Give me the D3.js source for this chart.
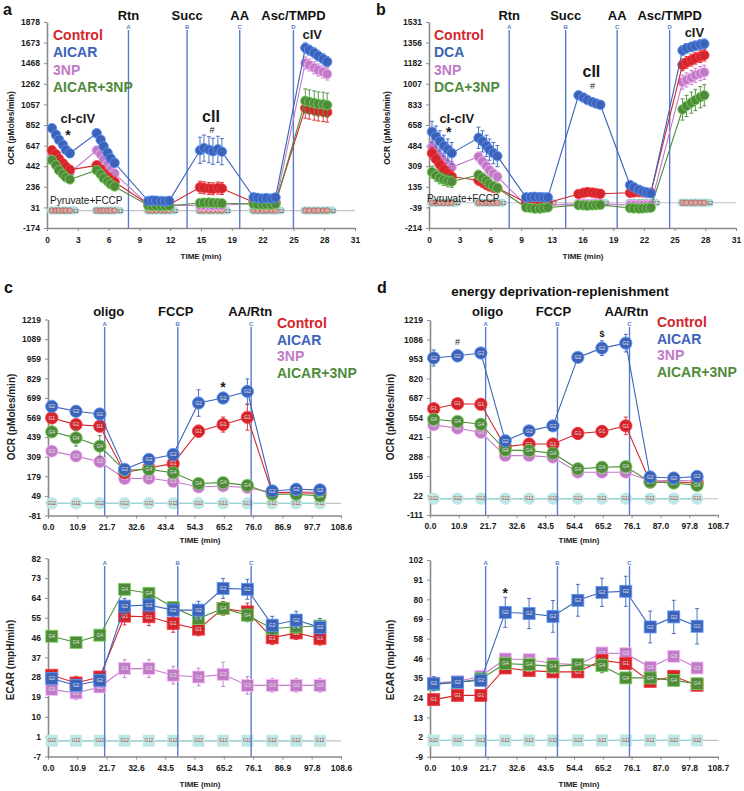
<!DOCTYPE html>
<html>
<head>
<meta charset="utf-8">
<script src="https://cdn.jsdelivr.net/npm/d3@7/dist/d3.min.js"></script>
<style>
  html,body{margin:0;padding:0;background:#fff;}
  svg{display:block;}
  text{font-family:"Liberation Sans", Arial, Helvetica, sans-serif;}
</style>
</head>
<body>
<svg id="fig" width="744" height="791"></svg>
<script>
// ================= DATA =================
const namesAICAR = ["Control","AICAR","3NP","AICAR+3NP"];
const namesDCA   = ["Control","DCA","3NP","DCA+3NP"];
const seriesColors = ["#d3262c","#3c63b8","#c07bc6","#4f8b3b"];
const groupTags = ["G1","G2","G3","G4"];

// ---- Panel a (OCR, Pyruvate+FCCP) ----
const aTimes = [0.5,0.9,1.2,1.6,1.9,2.3, 5.0,5.4,5.7,6.1,6.4,6.8, 10.2,10.6,11.0,11.5,11.9,12.3,
                15.4,15.8,16.3,16.7,17.2,17.6, 20.8,21.2,21.7,22.1,22.6,23.0, 26.0,26.4,26.9,27.3,27.8,28.2];
const aXTicks = ["0","3","6","9","12","15","19","22","25","28","31"];
const aYTicks = ["-174","31","236","442","647","852","1057","1262","1468","1673","1878"];
const aInjTimes = [8.2, 14.1, 19.4, 24.8];
const aInjNames = ["Rtn","Succ","AA","Asc/TMPD"];
const aControl  = [600,560,515,470,435,405, 450,410,370,335,305,285, 62,60,58,56,55,57, 232,226,220,216,224,220, 82,78,76,80,77,80, 1020,1010,1000,992,986,980];
const aAICAR    = [820,755,705,655,605,570, 770,705,640,575,520,475, 95,100,98,95,92,96, 600,622,606,590,610,586, 132,126,120,124,120,130, 1620,1598,1570,1540,1510,1482];
const a3NP      = [560,520,482,440,402,376, 600,560,510,460,410,370, 55,55,52,50,50,52, 50,52,50,48,50,52, 70,68,65,65,66,70, 1470,1450,1422,1400,1380,1360];
const aAICAR3NP = [502,452,402,362,332,310, 402,362,322,290,262,240, 50,48,46,45,45,48, 75,78,80,76,75,72, 65,62,60,62,60,65, 1092,1082,1072,1062,1058,1050];
// error per injection cluster
const aErrControl  = [30,30,10,60,15,100];
const aErrAICAR    = [40,40,15,130,20,50];
const aErr3NP      = [30,30,10,15,10,60];
const aErrAICAR3NP = [30,30,10,20,10,120];

// ---- Panel b (OCR, DCA) ----
const bTimes = [0.3,0.7,1.1,1.5,1.9,2.3, 5.0,5.4,5.8,6.1,6.5,6.9, 9.8,10.3,10.7,11.2,11.6,12.0,
                15.1,15.6,16.0,16.5,16.9,17.3, 20.3,20.7,21.2,21.6,22.0,22.4, 25.6,26.0,26.5,26.9,27.4,27.8];
const bXTicks = ["0","3","6","9","13","16","19","22","25","28","31"];
const bYTicks = ["-214","-39","135","309","484","658","833","1007","1182","1356","1531"];
const bInjTimes = [8.1, 13.8, 19.0, 24.3];
const bInjNames = ["Rtn","Succ","AA","Asc/TMPD"];
const bControl = [420,370,322,282,246,220, 190,172,152,140,130,124, 2,-2,-5,-5,-3,0, 74,84,90,86,80,76, 84,88,90,88,86,85, 1168,1188,1208,1224,1238,1250];
const bDCA     = [600,560,520,482,450,420, 550,520,482,450,420,395, 45,48,50,48,45,45, 910,890,870,852,840,830, 150,130,110,95,86,80, 1290,1308,1320,1330,1340,1346];
const b3NP     = [472,430,390,352,322,300, 390,350,310,276,246,220, -20,-22,-25,-25,-22,-20, -10,-10,-12,-10,-10,-8, -20,-20,-22,-20,-20,-18, 1022,1040,1060,1080,1094,1105];
const bDCA3NP  = [260,232,210,196,185,180, 235,210,186,160,140,125, -40,-45,-50,-50,-45,-40, -20,-22,-25,-22,-20,-18, -45,-48,-50,-48,-45,-42, 790,820,848,870,894,910];
const bErrControl = [50,40,10,20,15,50];
const bErrDCA     = [90,90,15,25,20,40];
const bErr3NP     = [50,40,15,10,10,60];
const bErrDCA3NP  = [50,40,20,15,15,90];

// ---- Panels c / d (time axis) ----
const cdTimes = [1.4,10.4,19.2,28.4,37.4,46.4,55.8,64.9,73.9,83.1,92.0,100.8];
const cdInjTimes = [21.0, 48.1, 75.3];
const cdInjNames = ["oligo","FCCP","AA/Rtn"];
const cXTicks = ["0.0","10.9","21.7","32.6","43.4","54.3","65.2","76.0","86.9","97.7","108.6"];
const cXTicksE = ["0.0","10.9","21.7","32.6","43.5","54.3","65.2","76.1","86.9","97.8","108.6"];
const dXTicks = ["0.0","10.9","21.7","32.6","43.5","54.4","65.2","76.1","87.0","97.8","108.7"];
const cYTicks = ["-81","49","179","309","439","569","699","829","959","1089","1219"];
const dYTicks = ["-111","22","155","288","421","554","687","820","953","1086","1219"];
const ceYTicks = ["-7","1","10","19","28","37","46","55","64","73","82"];
const deYTicks = ["-9","2","13","24","35","46","58","69","80","91","102"];

// c OCR
const cControl  = [566,522,511,203,236,263,478,522,570,71,71,65];
const cAICAR    = [643,610,592,225,291,324,665,698,742,82,93,89];
const c3NP      = [346,313,276,164,166,144,108,115,104,71,75,75];
const cAICAR3NP = [474,434,379,219,225,203,131,137,119,60,60,49];
const cErrControl  = [25,30,35,15,20,20,40,50,85,10,10,10];
const cErrAICAR    = [20,30,30,15,20,20,88,35,83,10,10,10];
const cErr3NP      = [15,15,15,15,15,15,15,15,15,8,8,8];
const cErrAICAR3NP = [30,55,70,15,15,15,20,20,20,10,10,10];
// c ECAR
const ceControl  = [29.6,26.1,28.8,56.3,56.0,53.0,50.4,59.8,58.2,46.5,48.7,46.2];
const ceAICAR    = [28.1,25.0,27.3,60.8,61.3,59.0,59.0,68.8,68.4,52.2,54.5,51.2];
const ce3NP      = [23.2,21.6,24.3,32.6,32.6,29.6,28.8,30.0,25.0,25.0,25.0,25.0];
const ceAICAR3NP = [47.2,44.4,47.7,68.4,66.6,60.2,55.2,59.8,56.7,50.7,51.4,51.8];
const ceErrControl  = [2,3,2,4,4,4,3,3,4,3,3,3];
const ceErrAICAR    = [2,2,2,3.5,3.5,3,4,4.5,4.5,4,4,4];
const ceErr3NP      = [2,3,2,4,4,4,4,5.5,4,3,3,3];
const ceErrAICAR3NP = [1.5,1.5,1.5,2,2,2,2,3,3,2,2,2];
// d OCR
const dControl  = [614,648,644,355,373,373,445,459,497,114,114,107];
const dAICAR    = [960,975,994,395,463,497,964,1027,1061,148,141,152];
const d3NP      = [504,481,452,294,294,283,181,181,181,121,125,121];
const dAICAR3NP = [542,527,508,332,328,310,204,215,219,114,107,91];
const dErrControl  = [25,20,20,15,15,15,40,40,60,10,10,10];
const dErrAICAR    = [55,40,30,20,20,20,30,50,60,15,15,15];
const dErr3NP      = [15,15,15,10,10,10,10,10,10,10,10,10];
const dErrAICAR3NP = [15,15,15,10,10,10,10,10,10,10,10,10];
// d ECAR
const deControl  = [23.1,25.5,25.5,41.0,39.5,38.8,38.8,45.3,43.5,33.4,36.3,31.2];
const deAICAR    = [32.1,32.9,34.0,72.5,71.8,70.2,79.3,83.8,84.4,64.2,69.9,64.6];
const de3NP      = [32.5,33.4,36.3,46.1,45.7,43.5,42.9,49.5,49.1,41.4,47.6,41.0];
const deAICAR3NP = [31.6,32.9,34.8,43.5,42.9,41.9,42.9,42.3,35.4,35.4,34.0,32.1];
const deErrControl  = [1.5,1.5,1.5,2,2,2,2,3,3,2,3,2];
const deErrAICAR    = [4,2.5,2.5,8.5,8.5,9,9,8,8.5,9,9.4,10];
const deErr3NP      = [1.5,1.5,1.5,2,2,2,3,3,3,2,2,2];
const deErrAICAR3NP = [1.5,1.5,1.5,2,2,2,3,4,3,2,3,2];

// ================= DRAWING =================
const svg = d3.select("#fig");
const FONT = '"Liberation Sans", Arial, Helvetica, sans-serif';
const AXIS_COL = "#8a8a8a";
const INJ_COL = "#5a7bcc";

function mkSeries(names, vals, errs, perCluster) {
  return vals.map((v, k) => ({
    name: names[k], color: seriesColors[k], tag: groupTags[k], values: v,
    err: perCluster ? v.map((_, i) => errs[k][Math.floor(i / 6)]) : errs[k]
  }));
}

function drawPanel(o) {
  const g = svg.append("g");
  const x = d3.scaleLinear().domain([0, o.xMax]).range([o.left, o.right]);
  const y = d3.scaleLinear().domain([o.yMin, o.yMax]).range([o.bottom, o.top]);
  const ny = o.yTicks.length - 1, nx = o.xTicks.length - 1;

  // axes
  const yAxis = d3.axisLeft(y)
    .tickValues(o.yTicks.map((_, i) => o.yMin + (o.yMax - o.yMin) * i / ny))
    .tickFormat((d, i) => o.yTicks[i]).tickSize(3).tickSizeOuter(0).tickPadding(4);
  const xAxis = d3.axisBottom(x)
    .tickValues(o.xTicks.map((_, i) => o.xMax * i / nx))
    .tickFormat((d, i) => o.xTicks[i]).tickSize(3).tickSizeOuter(0).tickPadding(o.xPad || 5);
  [[yAxis, `translate(${o.left},0)`], [xAxis, `translate(0,${o.bottom})`]].forEach(([ax, tr]) => {
    const ag = g.append("g").attr("transform", tr).call(ax);
    ag.attr("font-family", FONT).attr("font-size", o.tickFont || 8.5).attr("font-weight", "bold");
    ag.select(".domain").attr("stroke", AXIS_COL).attr("stroke-width", 1.6);
    ag.selectAll(".tick line").attr("stroke", AXIS_COL).attr("stroke-width", 1);
    ag.selectAll(".tick text").attr("fill", "#1a1a1a");
  });

  // axis titles
  g.append("text").attr("transform", `translate(${o.yLabelX},${o.yLabelY}) rotate(-90)`)
    .attr("text-anchor", "middle").attr("dy", "0.35em")
    .attr("font-size", o.yLabelFont || 9).attr("font-weight", "bold").attr("fill", "#222").text(o.yLabel);
  g.append("text").attr("x", o.xLabelX).attr("y", o.xLabelY).attr("text-anchor", "middle")
    .attr("font-size", 8).attr("font-weight", "bold").attr("fill", "#222").text("TIME (min)");

  // baseline (background group G12)
  const y0 = y(0);
  g.append("line").attr("x1", o.left).attr("x2", o.right).attr("y1", y0).attr("y2", y0)
    .attr("stroke", "#c2c2c2").attr("stroke-width", 1.2);
  if (o.marker === "cluster") {
    for (let c = 0; c < o.times.length / 6; c++) {
      const ts = o.times.slice(c * 6, c * 6 + 6);
      const xs = x(ts[0]) - 5, xe = x(ts[5]) + 9;
      g.append("rect").attr("x", xs).attr("y", y0 - 4).attr("width", xe - xs).attr("height", 8)
        .attr("rx", 4).attr("fill", "#a9e0df");
      g.selectAll(null).data(ts).enter().append("circle")
        .attr("cx", d => x(d)).attr("cy", y0).attr("r", 2.8)
        .attr("fill", "#d8a49d").attr("stroke", "#9c4b42").attr("stroke-width", 0.6);
      g.append("text").attr("x", x(ts[5]) + 3).attr("y", y0 + 2).attr("font-size", 5.5)
        .attr("fill", "#8d3b33").text("12");
    }
  } else {
    g.append("line").attr("x1", o.left).attr("x2", x(o.times[o.times.length - 1])).attr("y1", y0).attr("y2", y0)
      .attr("stroke", "#94d6d5").attr("stroke-width", 1.3);
    const bg = g.selectAll(null).data(o.times).enter().append("g")
      .attr("transform", d => `translate(${x(d)},${y0})`);
    if (o.marker === "square") bg.append("rect").attr("x", -6).attr("y", -6).attr("width", 12).attr("height", 12).attr("fill", "#bde8e7");
    else bg.append("circle").attr("r", 6.2).attr("fill", "#bde8e7");
    bg.append("text").attr("text-anchor", "middle").attr("dy", "0.35em").attr("font-size", 4.6)
      .attr("fill", "#b03a30").text("G12");
  }

  // injection lines
  o.injTimes.forEach((t, i) => {
    const xx = x(t);
    g.append("line").attr("x1", xx).attr("x2", xx).attr("y1", o.injTop).attr("y2", o.bottom)
      .attr("stroke", INJ_COL).attr("stroke-width", 1.4);
    g.append("text").attr("x", xx).attr("y", o.injTop - 1).attr("text-anchor", "middle")
      .attr("font-size", 6).attr("font-weight", "bold").attr("fill", INJ_COL).text("ABCD"[i]);
    if (o.injNames) {
      g.append("text").attr("x", xx + (o.injNameDx ? o.injNameDx[i] : 0)).attr("y", o.injNameY)
        .attr("text-anchor", "middle").attr("font-size", 13).attr("font-weight", "bold")
        .attr("fill", "#111").text(o.injNames[i]);
    }
  });

  // series
  const line = d3.line().x(d => x(d.t)).y(d => y(d.v));
  const order = o.order || [2, 0, 3, 1];
  order.forEach(k => {
    const s = o.series[k];
    const pts = s.values.map((v, i) => ({ t: o.times[i], v, e: s.err[i] }));
    const sg = g.append("g");
    sg.append("path").datum(pts).attr("d", line).attr("fill", "none")
      .attr("stroke", s.color).attr("stroke-width", 1.1);
    const eb = sg.selectAll(null).data(pts.filter(p => p.e > 0)).enter().append("g")
      .attr("stroke", s.color).attr("stroke-width", 0.9);
    eb.append("line").attr("x1", p => x(p.t)).attr("x2", p => x(p.t))
      .attr("y1", p => y(p.v - p.e)).attr("y2", p => y(p.v + p.e));
    [-1, 1].forEach(sg2 => eb.append("line")
      .attr("x1", p => x(p.t) - 2).attr("x2", p => x(p.t) + 2)
      .attr("y1", p => y(p.v + sg2 * p.e)).attr("y2", p => y(p.v + sg2 * p.e)));
    const mk = sg.selectAll(null).data(pts).enter().append("g")
      .attr("transform", p => `translate(${x(p.t)},${y(p.v)})`);
    const edge = d3.color(s.color).brighter(1.2).formatHex();
    if (o.marker === "square") {
      mk.append("rect").attr("x", -6).attr("y", -6).attr("width", 12).attr("height", 12)
        .attr("fill", s.color).attr("stroke", edge).attr("stroke-width", 0.8);
    } else {
      const r = o.marker === "cluster" ? 4.8 : 6.2;
      mk.append("circle").attr("r", r).attr("fill", s.color).attr("stroke", edge).attr("stroke-width", 0.8);
    }
    if (o.marker !== "cluster") {
      mk.append("text").attr("text-anchor", "middle").attr("dy", "0.35em")
        .attr("font-size", 5).attr("fill", "#e4e4e4").text(s.tag);
    }
  });

  // annotations
  (o.ann || []).forEach(a => {
    g.append("text").attr("x", x(a.t)).attr("y", y(a.v)).attr("text-anchor", a.anchor || "middle")
      .attr("font-size", a.size).attr("font-weight", a.weight || "bold").attr("fill", "#1a1a1a").text(a.text);
  });

  // legend
  if (o.legend) {
    o.series.forEach((s, k) => {
      g.append("text").attr("x", o.legend.x).attr("y", o.legend.y + k * o.legend.dy)
        .attr("font-size", 14).attr("font-weight", "bold").attr("fill", s.color).text(s.name);
    });
  }
  return { x, y };
}

// ---- Panel a ----
drawPanel({
  left: 47, right: 355, top: 22, bottom: 228, xMax: 31, yMin: -174, yMax: 1878,
  xTicks: aXTicks, yTicks: aYTicks, tickFont: 8.5, xPad: 6,
  yLabel: "OCR (pMoles/min)", yLabelX: 11, yLabelY: 128, yLabelFont: 8.5,
  xLabelX: 201, xLabelY: 259,
  times: aTimes, marker: "cluster",
  series: mkSeries(namesAICAR, [aControl, aAICAR, a3NP, aAICAR3NP], [aErrControl, aErrAICAR, aErr3NP, aErrAICAR3NP], true),
  injTimes: aInjTimes, injNames: aInjNames, injTop: 30, injNameY: 20,
  legend: { x: 53, y: 40, dy: 17.3 },
  ann: [
    { text: "cI-cIV", t: 3.1, v: 872, size: 13 },
    { text: "*", t: 2.1, v: 700, size: 14 },
    { text: "cII", t: 16.5, v: 882, size: 16 },
    { text: "#", t: 16.6, v: 772, size: 9, weight: "normal" },
    { text: "cIV", t: 26.7, v: 1709, size: 13 },
    { text: "Pyruvate+FCCP", t: 0.3, v: 65, size: 10, weight: "normal", anchor: "start" }
  ]
});

// ---- Panel b ----
drawPanel({
  left: 429, right: 736, top: 22, bottom: 228, xMax: 31, yMin: -214, yMax: 1531,
  xTicks: bXTicks, yTicks: bYTicks, tickFont: 8.5, xPad: 6,
  yLabel: "OCR (pMoles/min)", yLabelX: 387, yLabelY: 128, yLabelFont: 8.5,
  xLabelX: 583, xLabelY: 259,
  times: bTimes, marker: "cluster",
  series: mkSeries(namesDCA, [bControl, bDCA, b3NP, bDCA3NP], [bErrControl, bErrDCA, bErr3NP, bErrDCA3NP], true),
  injTimes: bInjTimes, injNames: bInjNames, injTop: 30, injNameY: 20,
  legend: { x: 434, y: 40, dy: 17.3 },
  ann: [
    { text: "cI-cIV", t: 2.8, v: 675, size: 13 },
    { text: "*", t: 2.0, v: 555, size: 14 },
    { text: "cII", t: 16.4, v: 1065, size: 16 },
    { text: "#", t: 16.5, v: 963, size: 9, weight: "normal" },
    { text: "cIV", t: 26.8, v: 1404, size: 13 },
    { text: "Pyruvate+FCCP", t: -0.2, v: 6, size: 10, weight: "normal", anchor: "start" }
  ]
});

// ---- Panel c OCR ----
drawPanel({
  left: 48, right: 341, top: 319.5, bottom: 515.5, xMax: 108.6, yMin: -81, yMax: 1219,
  xTicks: cXTicks, yTicks: cYTicks, tickFont: 8.5,
  yLabel: "OCR (pMoles/min)", yLabelX: 11, yLabelY: 417, yLabelFont: 10,
  xLabelX: 200, xLabelY: 543,
  times: cdTimes, marker: "circle",
  series: mkSeries(namesAICAR, [cControl, cAICAR, c3NP, cAICAR3NP], [cErrControl, cErrAICAR, cErr3NP, cErrAICAR3NP], false),
  injTimes: cdInjTimes, injNames: cdInjNames, injTop: 327, injNameY: 316, injNameDx: [4, -2, -1],
  legend: { x: 277, y: 328, dy: 16.5 },
  ann: [{ text: "*", t: 64.9, v: 735, size: 14 }]
});

// ---- Panel c ECAR ----
drawPanel({
  left: 48, right: 341, top: 558.3, bottom: 756.5, xMax: 108.6, yMin: -7.1, yMax: 82.4,
  xTicks: cXTicksE, yTicks: ceYTicks, tickFont: 8.5,
  yLabel: "ECAR (mpH/min)", yLabelX: 10, yLabelY: 660, yLabelFont: 10,
  xLabelX: 200, xLabelY: 787,
  times: cdTimes, marker: "square",
  series: mkSeries(namesAICAR, [ceControl, ceAICAR, ce3NP, ceAICAR3NP], [ceErrControl, ceErrAICAR, ceErr3NP, ceErrAICAR3NP], false),
  injTimes: cdInjTimes, injTop: 566, order: [2, 0, 3, 1]
});

// ---- Panel d OCR ----
drawPanel({
  left: 430, right: 718, top: 320, bottom: 515, xMax: 108.7, yMin: -111, yMax: 1219,
  xTicks: dXTicks, yTicks: dYTicks, tickFont: 8.5,
  yLabel: "OCR (pMoles/min)", yLabelX: 390, yLabelY: 417, yLabelFont: 10,
  xLabelX: 579, xLabelY: 543,
  times: cdTimes, marker: "circle",
  series: mkSeries(namesAICAR, [dControl, dAICAR, d3NP, dAICAR3NP], [dErrControl, dErrAICAR, dErr3NP, dErrAICAR3NP], false),
  injTimes: cdInjTimes, injNames: cdInjNames, injTop: 327, injNameY: 316, injNameDx: [2, -4, -3],
  legend: { x: 657, y: 327, dy: 16.5 },
  ann: [
    { text: "#", t: 10.4, v: 1049, size: 9, weight: "normal" },
    { text: "$", t: 64.9, v: 1104, size: 9 }
  ]
});

// ---- Panel d ECAR ----
drawPanel({
  left: 430, right: 718, top: 560, bottom: 756.7, xMax: 108.7, yMin: -9.2, yMax: 102.1,
  xTicks: dXTicks, yTicks: deYTicks, tickFont: 8.5,
  yLabel: "ECAR (mpH/min)", yLabelX: 390, yLabelY: 660, yLabelFont: 10,
  xLabelX: 579, xLabelY: 787,
  times: cdTimes, marker: "square",
  series: mkSeries(namesAICAR, [deControl, deAICAR, de3NP, deAICAR3NP], [deErrControl, deErrAICAR, deErr3NP, deErrAICAR3NP], false),
  injTimes: cdInjTimes, injTop: 566,
  ann: [{ text: "*", t: 28.4, v: 80.5, size: 14 }]
});

// panel letters and title
[["a", 3, 15], ["b", 376, 15], ["c", 4, 293], ["d", 377, 293]].forEach(([t, xx, yy]) =>
  svg.append("text").attr("x", xx).attr("y", yy).attr("font-size", 16).attr("font-weight", "bold")
    .attr("fill", "#111").text(t));
svg.append("text").attr("x", 560).attr("y", 296).attr("text-anchor", "middle")
  .attr("font-size", 13.5).attr("font-weight", "bold").attr("fill", "#111").text("energy deprivation-replenishment");
</script>
</body>
</html>
